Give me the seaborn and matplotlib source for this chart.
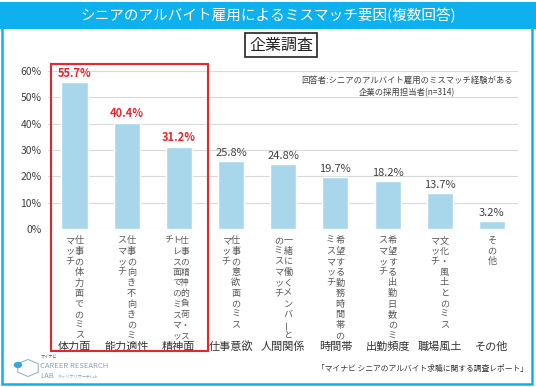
import matplotlib
matplotlib.use("Agg")
import matplotlib.pyplot as plt
import matplotlib.transforms as mtrans
from matplotlib.patches import Rectangle, RegularPolygon, Circle
import seaborn as sns
import pandas as pd

# data
categories = ['体力面', '能力適性', '精神面', '仕事意欲', '人間関係',
              '時間帯', '出勤頻度', '職場風土', 'その他']
values = [55.7, 40.4, 31.2, 25.8, 24.8, 19.7, 18.2, 13.7, 3.2]
# vertical description, columns read right -> left
descriptions = [
    ['仕事の体力面でのミス', 'マッチ'],
    ['仕事の向き不向きのミ', 'スマッチ'],
    ['仕事の精神的負荷・ス', 'トレス面でのミスマッ', 'チ'],
    ['仕事の意欲面のミス', 'マッチ'],
    ['一緒に働くメンバーと', 'のミスマッチ'],
    ['希望する勤務時間帯の', 'ミスマッチ'],
    ['希望する出勤日数のミ', 'スマッチ'],
    ['文化・風土とのミス', 'マッチ'],
    ['その他'],
]
yticks = [0, 10, 20, 30, 40, 50, 60]
highlight = 3  # first three bars are highlighted

title = 'シニアのアルバイト雇用によるミスマッチ要因(複数回答)'
subtitle = '企業調査'
note = '回答者:シニアのアルバイト雇用のミスマッチ経験がある\n企業の採用担当者(n=314)'
source = '「マイナビ シニアのアルバイト求職に関する調査レポート」'

BLUE = '#0fb0ee'
BAR = '#a8d6ea'
RED = '#e5262e'
GRAY = '#404040'

sns.set_style('white')
plt.rcParams['font.family'] = ['Noto Sans CJK JP', 'DejaVu Sans']

W, H = 536, 387
fig = plt.figure(figsize=(W / 100, H / 100), dpi=100)


def fy(y):
    return 1 - y / H


def fx(x):
    return x / W


ax = fig.add_axes([fx(48.4), fy(229), fx(518) - fx(48.4), fy(71) - fy(229)])

df = pd.DataFrame({'cat': categories, 'val': values})
sns.barplot(data=df, x='cat', y='val', color=BAR, saturation=1, width=0.5, ax=ax)

ax.set_ylim(0, 60)
ax.set_xlim(-0.5, len(categories) - 0.5)
ax.set_yticks(yticks)
ax.set_yticklabels([f'{t}%' for t in yticks], fontsize=7.5, color=GRAY)
ax.tick_params(axis='y', length=0, pad=5)
ax.set_xticks([])
ax.set_xlabel('')
ax.set_ylabel('')
ax.yaxis.grid(True, color='#d9d9d9', linewidth=0.8)
ax.set_axisbelow(True)
for s in ax.spines.values():
    s.set_visible(False)

# value labels
for i, (bar, v) in enumerate(zip(ax.patches, values)):
    hl = i < highlight
    ax.annotate(f'{v}%', (bar.get_x() + bar.get_width() / 2, v),
                xytext=(0, 2), textcoords='offset points', ha='center', va='bottom',
                fontsize=8, color=RED if hl else GRAY,
                fontweight='bold' if hl else 'normal')

# category labels + vertical descriptions
blend = mtrans.blended_transform_factory(ax.transData, fig.transFigure)
for i, (cat, cols) in enumerate(zip(categories, descriptions)):
    ax.text(i, fy(346.5), cat, transform=blend, ha='center', va='center',
            fontsize=8, color='#333333')
    n = len(cols)
    step = 9.5 if n < 3 else 7.8
    for j, col in enumerate(cols):
        dx = (n - 1) / 2 * step - j * step - (2 if n == 3 else 0)
        tr = mtrans.offset_copy(blend, fig=fig, x=dx, y=0, units='dots')
        for k, ch in enumerate(col):
            ax.text(i, fy(240.5 + k * 10.6), ch, transform=tr, ha='center', va='center',
                    fontsize=6.3 if n == 3 else 6.6, color='#595959',
                    rotation=90 if ch == 'ー' else 0)

# frame around highlighted group
fig.patches.append(Rectangle((fx(51), fy(351)), fx(208) - fx(51), fy(64) - fy(351),
                             transform=fig.transFigure, fill=False, edgecolor=RED,
                             linewidth=1.5, zorder=5))

# outer border and title bar
fig.patches.append(Rectangle((fx(2), fy(384)), fx(532) - fx(2), fy(20) - fy(384),
                             transform=fig.transFigure, fill=False, edgecolor=BLUE,
                             linewidth=1.8))
fig.patches.append(Rectangle((0, fy(29)), 1, fy(2) - fy(29), transform=fig.transFigure,
                             facecolor=BLUE, edgecolor='none'))
fig.text(0.5, fy(15.5), title, ha='center', va='center', fontsize=10.5, color='white')

fig.text(fx(281), fy(45), subtitle, ha='center', va='center', fontsize=11.5, color='#222222',
         bbox=dict(boxstyle='square,pad=0.25', facecolor='white', edgecolor='#222222',
                   linewidth=1.2))

fig.text(fx(407), fy(86.5), note, ha='center', va='center', fontsize=6, color=GRAY,
         linespacing=1.35)

fig.text(fx(528), fy(369), source, ha='right', va='center', fontsize=5.6, color='#333333')

# logo
fig.patches.append(RegularPolygon((fx(28), fy(368)), 6, radius=0.022,
                                  transform=fig.transFigure, fill=False,
                                  edgecolor='#9ab3c6', linewidth=0.8))
fig.patches.append(Circle((fx(18), fy(365)), 0.008, transform=fig.transFigure,
                          facecolor='#3aa6dd', edgecolor='none'))
fig.text(fx(41), fy(357.5), 'マイナビ', fontsize=3, color='#555555', va='center')
fig.text(fx(40), fy(366), 'CAREER RESEARCH', fontsize=5.5, color='#8aa2b5', va='center')
fig.text(fx(40), fy(376.5), 'LAB', fontsize=5.5, color='#8aa2b5', va='center')
fig.text(fx(58), fy(376.5), 'キャリアリサーチLab', fontsize=3, color='#8aa2b5', va='center')

fig.savefig('out.png', dpi=100)
